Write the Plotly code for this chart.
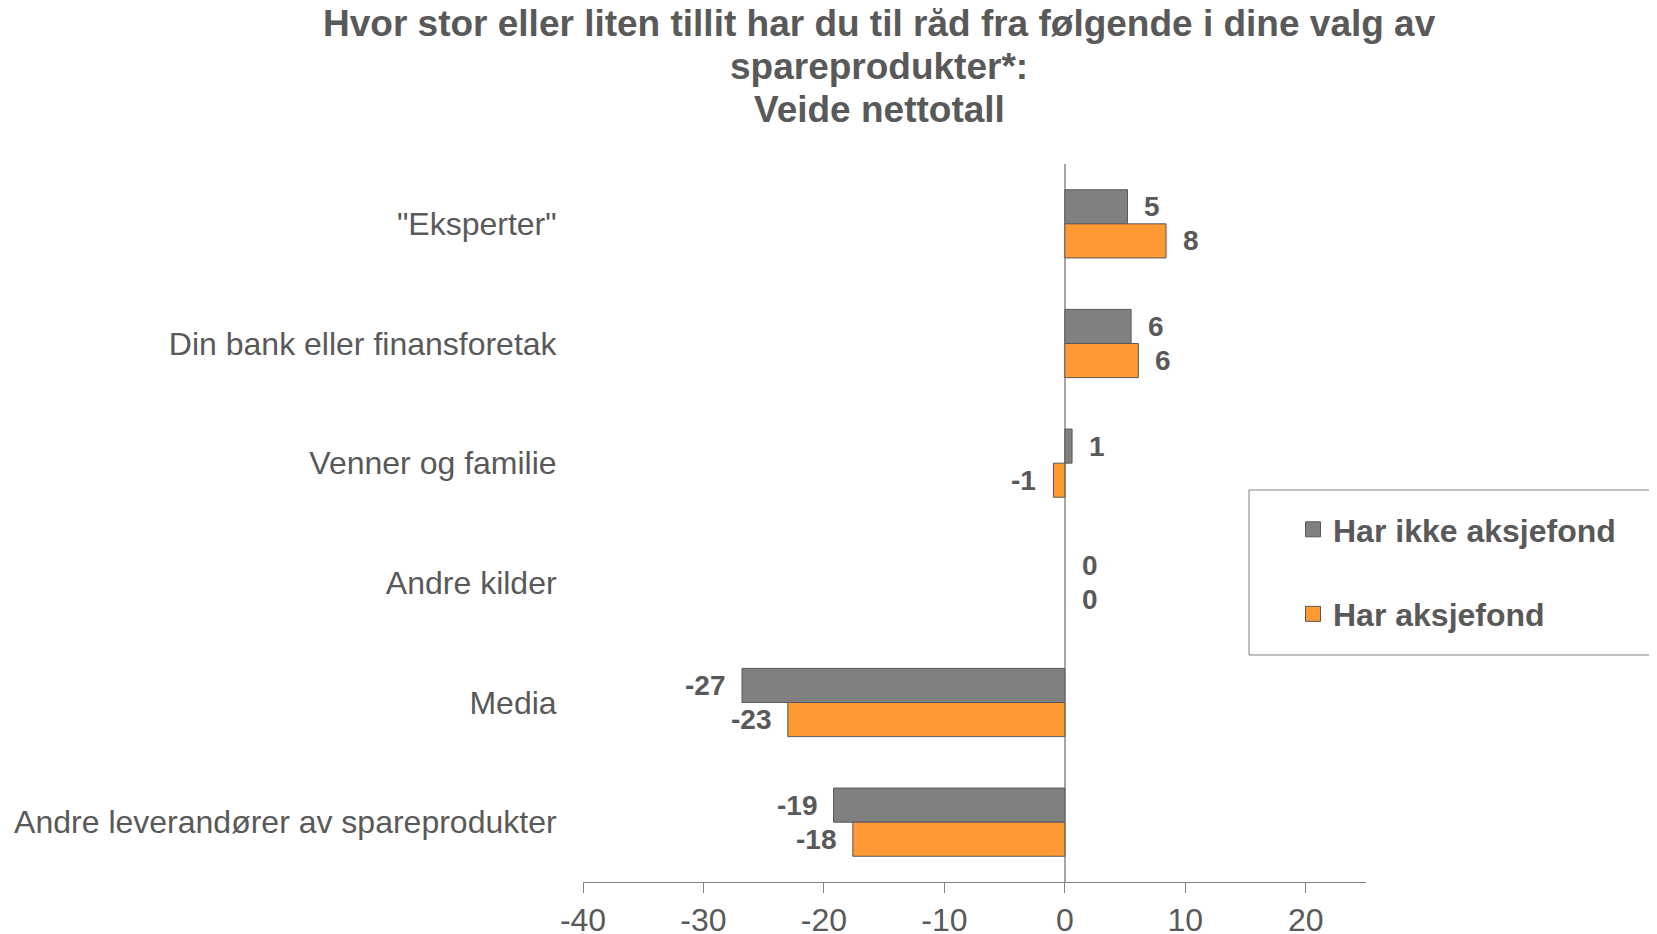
import plotly.graph_objects as go

categories = ['"Eksperter"', 'Din bank eller finansforetak', 'Venner og familie',
              'Andre kilder', 'Media', 'Andre leverandører av spareprodukter']
har_ikke_aksjefond = [5.2, 5.5, 0.6, 0.0, -26.8, -19.2]
har_aksjefond = [8.4, 6.1, -0.95, 0.0, -23.0, -17.6]
series_names = ['Har ikke aksjefond', 'Har aksjefond']
x_ticks = [-40, -30, -20, -10, 0, 10, 20]
title_lines = ['Hvor stor eller liten tillit har du til råd fra følgende i dine valg av',
               'spareprodukter*:', 'Veide nettotall']

FONT = 'Arial, Liberation Sans, sans-serif'
TXT = '#595959'
colors = ['#808080', '#FF9933']
bargap = 0.43

W, H = 1657, 934
OFF = 8  # page body margin offset
# plot area in reference pixels
PX0, PX1, PY0, PY1 = 583, 1366, 164, 882
L, T = PX0 - OFF, PY0 - OFF
R, B = W - (PX1 - OFF), H - (PY1 - OFF)
pw, ph = PX1 - PX0, PY1 - PY0


def px(x):
    return (x - PX0) / pw


def py(y):
    return (PY1 - y) / ph


fig = go.Figure()
for name, vals, col in zip(series_names, [har_ikke_aksjefond, har_aksjefond], colors):
    fig.add_trace(go.Bar(
        y=categories, x=vals, name=name, orientation='h',
        marker=dict(color=col,
                    line=dict(color=['#595959' if v != 0 else 'rgba(0,0,0,0)' for v in vals],
                              width=1)),
        legendgroup=name, showlegend=False, hoverinfo='x+y'))

# legend entries with larger square swatches
for name, col in zip(series_names, colors):
    fig.add_trace(go.Scatter(
        x=[None], y=[None], mode='markers', name=name, legendgroup=name,
        marker=dict(symbol='square', size=15, color=col,
                    line=dict(color='#595959', width=1))))

# data labels
half = (1 - bargap) / 4
for k, vals in enumerate([har_ikke_aksjefond, har_aksjefond]):
    off = -half if k == 0 else half
    for j, v in enumerate(vals):
        pos = v >= 0
        fig.add_annotation(
            x=v, y=j + off, xref='x', yref='y', text=f'{v:.0f}', showarrow=False,
            xanchor='left' if pos else 'right', yanchor='middle',
            xshift=15 if pos else -15,
            font=dict(family=FONT, size=28, color=TXT, weight='bold'))

# title lines
title_y_px = [23, 66.5, 109]
for line, ypx in zip(title_lines, title_y_px):
    fig.add_annotation(
        x=px(879), y=py(ypx), xref='paper', yref='paper',
        text=f'<b>{line}</b>', showarrow=False, xanchor='center', yanchor='middle',
        font=dict(family=FONT, size=37, color=TXT))

# legend frame
fig.add_shape(type='rect', xref='paper', yref='paper',
              x0=px(1249), x1=px(1720), y0=py(655), y1=py(490),
              line=dict(color='#808080', width=1), fillcolor='rgba(0,0,0,0)')

fig.update_layout(
    width=W, height=H, margin=dict(l=L, r=R, t=T, b=B, autoexpand=False),
    paper_bgcolor='white', plot_bgcolor='white',
    barmode='group', bargap=bargap, bargroupgap=0,
    showlegend=True,
    legend=dict(x=px(1293), y=py(502), xanchor='left', yanchor='top',
                font=dict(family=FONT, size=32, color=TXT, weight='bold'),
                tracegroupgap=40, traceorder='grouped', bgcolor='rgba(0,0,0,0)',
                borderwidth=0, itemwidth=30),
    xaxis=dict(range=[-40, 25], tickvals=x_ticks, ticktext=[str(t) for t in x_ticks],
               showgrid=False, zeroline=True, zerolinecolor='#A6A6A6', zerolinewidth=2,
               showline=True, linecolor='#808080', linewidth=1,
               ticks='outside', ticklen=10, tickcolor='#808080',
               tickfont=dict(family=FONT, size=32, color=TXT), automargin=False),
    yaxis=dict(autorange='reversed', showgrid=False, showline=False, zeroline=False,
               ticks='outside', ticklen=19, tickcolor='rgba(0,0,0,0)',
               tickfont=dict(family=FONT, size=32, color=TXT), automargin=False),
)

fig.write_html('out.html')
